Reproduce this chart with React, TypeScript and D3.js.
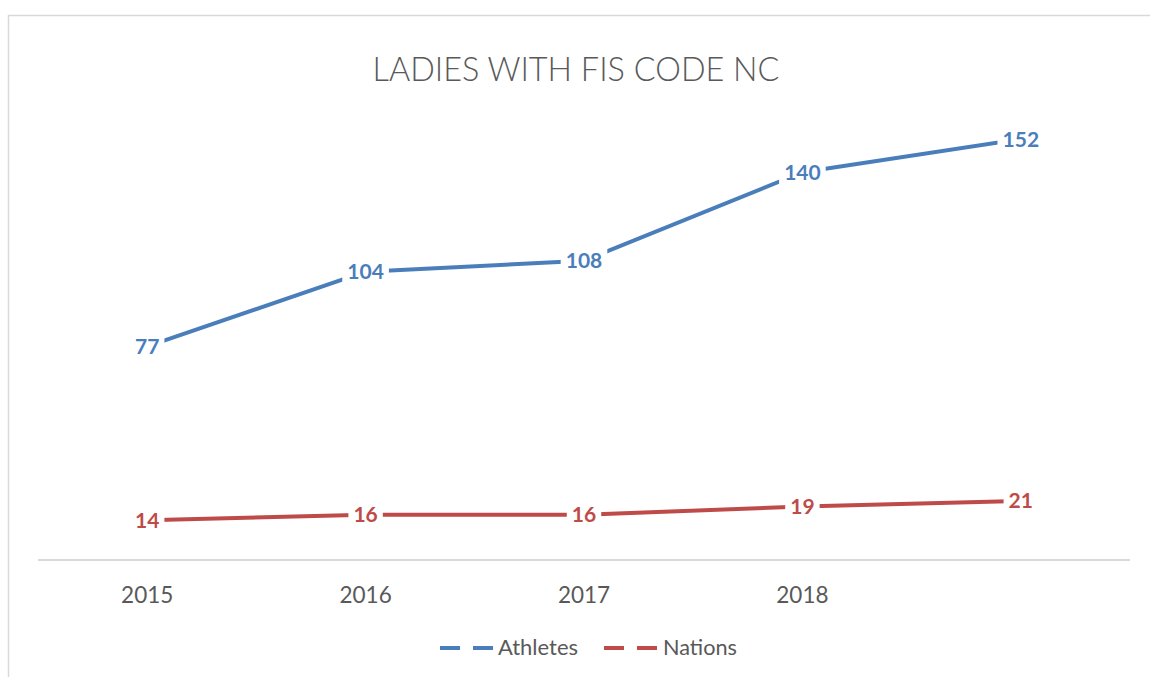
import React from "react";
import * as d3 from "d3";

const categories = ["2015", "2016", "2017", "2018", ""];
const athletes = [77, 104, 108, 140, 152];
const nations = [14, 16, 16, 19, 21];
const seriesNames = ["Athletes", "Nations"];
const title = "LADIES WITH FIS CODE NC";

const W = 1150;
const H = 677;
const BLUE = "#4A7EBB";
const RED = "#BE4B48";
const FONT = "Lato, 'Open Sans', sans-serif";

export default function App() {
  const x = d3.scalePoint<string>().domain(categories.map((c, i) => String(i))).range([38, 1130]).padding(0.5);
  const y = d3.scaleLinear().domain([0, 160]).range([559, 117]);
  const line = d3
    .line<number>()
    .x((_, i) => x(String(i)) as number)
    .y((d) => y(d));

  const series = [
    { name: seriesNames[0], values: athletes, color: BLUE },
    { name: seriesNames[1], values: nations, color: RED },
  ];

  const labelW = (v: number) => String(v).length * 12.2 + 10;

  return (
    <svg width={W} height={H} style={{ position: "absolute", left: 0, top: 0, background: "#fff" }} fontFamily={FONT}>
      <rect x={8.5} y={15.5} width={1200} height={700} fill="#fff" stroke="#d9d9d9" strokeWidth={1.5} />
      <text x={576} y={81} textAnchor="middle" fontSize={34} fontWeight={300} fill="#595959" textLength={407} lengthAdjust="spacingAndGlyphs">
        {title}
      </text>
      <line x1={38} x2={1130} y1={560} y2={560} stroke="#d9d9d9" strokeWidth={2} />
      {categories.map((c, i) =>
        c ? (
          <text key={i} x={x(String(i)) as number} y={603} textAnchor="middle" fontSize={22.5} fill="#595959">
            {c}
          </text>
        ) : null
      )}
      {series.map((s) => (
        <g key={s.name}>
          <path d={line(s.values) || ""} fill="none" stroke={s.color} strokeWidth={4} strokeLinejoin="round" />
          {s.values.map((v, i) => {
            const cx = x(String(i)) as number;
            const cy = y(v);
            const w = labelW(v);
            return (
              <g key={i}>
                <rect x={cx - w / 2} y={cy - 13} width={w} height={26} fill="#fff" />
                <text x={cx} y={cy + 7.5} textAnchor="middle" fontSize={21} fontWeight={700} fill={s.color}>
                  {v}
                </text>
              </g>
            );
          })}
        </g>
      ))}
      {/* legend */}
      {[
        { s: series[0], x0: 440, tx: 498, tl: 80 },
        { s: series[1], x0: 604, tx: 663, tl: 74 },
      ].map(({ s, x0, tx, tl }) => (
        <g key={s.name}>
          <line x1={x0} x2={x0 + 54} y1={648} y2={648} stroke={s.color} strokeWidth={4} strokeDasharray="20 13" />
          <text x={tx} y={655} fontSize={21} fill="#595959" textLength={tl} lengthAdjust="spacingAndGlyphs">
            {s.name}
          </text>
        </g>
      ))}
    </svg>
  );
}
